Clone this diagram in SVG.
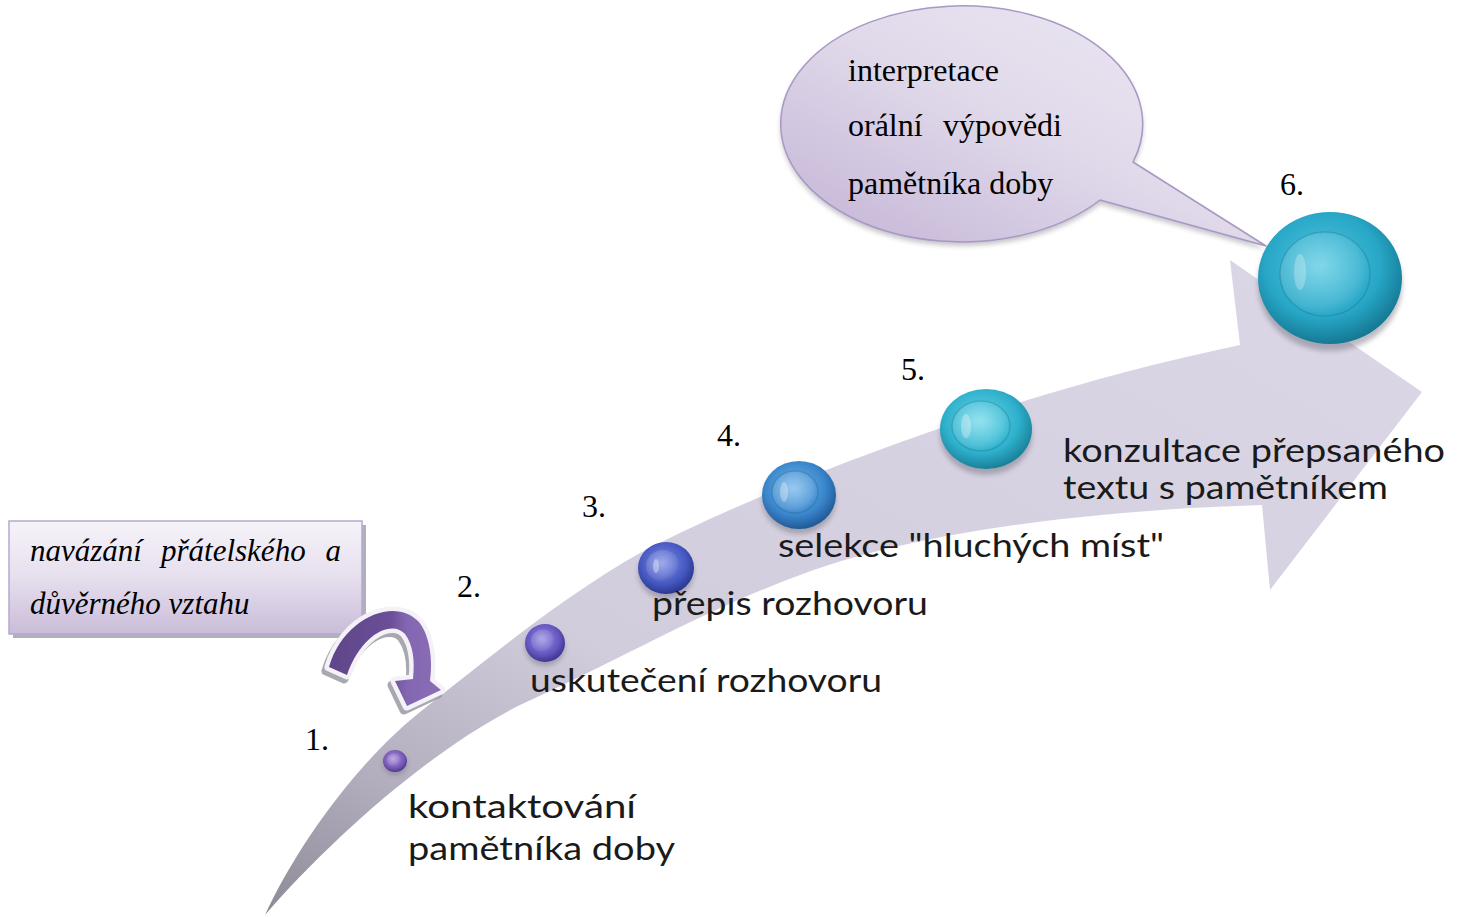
<svg xmlns="http://www.w3.org/2000/svg" width="1464" height="917" viewBox="0 0 1464 917">
<style>
.num{font-family:"Liberation Serif","Times New Roman",serif;font-size:32px;fill:#000}
.lbl{font-family:Lato,"Open Sans","DejaVu Sans",sans-serif;font-size:32px;fill:#1a1a1a}
.ser{font-family:"Liberation Serif","Times New Roman",serif;font-size:32px;fill:#000}
.it{font-style:italic;font-size:31px}
.shd{fill:#6a6a78;opacity:0.45;filter:url(#blur)}
.ring{stroke:#0e5f78;stroke-opacity:0.25;stroke-width:1.5}
</style>
<defs>
<filter id="blur" x="-30%" y="-30%" width="160%" height="160%"><feGaussianBlur stdDeviation="2.5"/></filter>
<linearGradient id="bandG" x1="0" y1="1" x2="1" y2="0">
<stop offset="0" stop-color="#8e8a97"/>
<stop offset="0.15" stop-color="#b3aebe"/>
<stop offset="0.35" stop-color="#d2cddd"/>
<stop offset="1" stop-color="#dcd7e7"/>
</linearGradient>
<linearGradient id="boxG" x1="0" y1="0" x2="0" y2="1">
<stop offset="0" stop-color="#f6f3f9"/>
<stop offset="0.5" stop-color="#e6dfee"/>
<stop offset="1" stop-color="#c9bcd9"/>
</linearGradient>
<linearGradient id="bubG" x1="1" y1="0" x2="0" y2="1">
<stop offset="0" stop-color="#eeeaf4"/>
<stop offset="0.5" stop-color="#e0d9ea"/>
<stop offset="1" stop-color="#c2b2d5"/>
</linearGradient>
<linearGradient id="curG" x1="0" y1="0" x2="1" y2="0">
<stop offset="0" stop-color="#5f4589"/>
<stop offset="0.55" stop-color="#6a4f98"/>
<stop offset="0.7" stop-color="#8467b2"/>
<stop offset="1" stop-color="#8a6cb6"/>
</linearGradient>
<radialGradient id="s1" cx="0.45" cy="0.4" r="0.62"><stop offset="0" stop-color="#a88bd8"/><stop offset="0.65" stop-color="#7a5cb8"/><stop offset="1" stop-color="#4b3487"/></radialGradient>
<radialGradient id="s2" cx="0.45" cy="0.4" r="0.62"><stop offset="0" stop-color="#9186e0"/><stop offset="0.65" stop-color="#6457c0"/><stop offset="1" stop-color="#3a318c"/></radialGradient>
<radialGradient id="s3" cx="0.45" cy="0.4" r="0.62"><stop offset="0" stop-color="#7b8ce2"/><stop offset="0.65" stop-color="#4759c2"/><stop offset="1" stop-color="#27348c"/></radialGradient>
<radialGradient id="s4" cx="0.45" cy="0.4" r="0.62"><stop offset="0" stop-color="#74b6ea"/><stop offset="0.65" stop-color="#3a86cc"/><stop offset="1" stop-color="#1d5692"/></radialGradient>
<radialGradient id="s5" cx="0.45" cy="0.4" r="0.62"><stop offset="0" stop-color="#6cd8ea"/><stop offset="0.65" stop-color="#2eb0cc"/><stop offset="1" stop-color="#187c94"/></radialGradient>
<radialGradient id="s6" cx="0.45" cy="0.4" r="0.62"><stop offset="0" stop-color="#52c8e2"/><stop offset="0.65" stop-color="#27a6c6"/><stop offset="1" stop-color="#137590"/></radialGradient>
<radialGradient id="inn" cx="0.4" cy="0.4" r="0.6"><stop offset="0" stop-color="#ffffff" stop-opacity="0.28"/><stop offset="0.8" stop-color="#ffffff" stop-opacity="0.1"/><stop offset="1" stop-color="#ffffff" stop-opacity="0"/></radialGradient>
<path id="curv" d="M329,667 C343,618 395,596 419,622 C430,636 433,660 430,681 L441,690 L407,706 L395,681 L413,679 C415,660 413,645 405,634 C393,620 362,632 347,675 Z"/>
</defs>

<rect width="1464" height="917" fill="#ffffff"/>

<g id="main-arrow">
<path d="M265,915 C300,840 360,760 420,712 C480,665 560,598 640,553 C760,490 1000,395 1240,345 L1230,260 L1422,392 L1270,590 L1262,505 C1100,510 920,530 800,575 C700,612 620,660 520,705 C430,750 330,840 265,915 Z" fill="url(#bandG)"/>
</g>

<g id="note-box">
<rect x="13" y="525" width="353" height="113" fill="#9c9ca6" opacity="0.8"/>
<rect x="9" y="521" width="353" height="113" fill="url(#boxG)" stroke="#b6a9cf" stroke-width="1.5"/>
<text class="ser it" x="30" y="561">navázání</text>
<text class="ser it" x="161" y="561">přátelského</text>
<text class="ser it" x="341" y="561" text-anchor="end">a</text>
<text class="ser it" x="30" y="614">důvěrného vztahu</text>
</g>

<g id="connectors">
<use href="#curv" fill="#8c8c96" stroke="#8c8c96" stroke-width="9" stroke-linejoin="round" opacity="0.75" transform="translate(-3,4)"/>
<use href="#curv" fill="#f4f2f7" stroke="#f4f2f7" stroke-width="9" stroke-linejoin="round"/>
<use href="#curv" fill="url(#curG)"/>
</g>

<g id="step1">
<ellipse class="shd" cx="395" cy="764" rx="12" ry="11"/>
<ellipse cx="395" cy="761" rx="12" ry="11" fill="url(#s1)"/>
<ellipse cx="394" cy="760" rx="7" ry="6.5" fill="url(#inn)"/>
<text class="num" x="305" y="750">1.</text>
<text class="lbl" x="408" y="818" textLength="228" lengthAdjust="spacingAndGlyphs">kontaktování</text>
<text class="lbl" x="408" y="860" textLength="267" lengthAdjust="spacingAndGlyphs">pamětníka doby</text>
</g>

<g id="step2">
<ellipse class="shd" cx="545" cy="647" rx="20" ry="19"/>
<ellipse cx="545" cy="643" rx="20" ry="19" fill="url(#s2)"/>
<ellipse cx="543" cy="641" rx="12" ry="11.5" fill="url(#inn)"/>
<text class="num" x="457" y="597">2.</text>
<text class="lbl" x="530" y="692" textLength="352" lengthAdjust="spacingAndGlyphs">uskutečení rozhovoru</text>
</g>

<g id="step3">
<ellipse class="shd" cx="666" cy="573" rx="28" ry="26"/>
<ellipse cx="666" cy="568" rx="28" ry="26" fill="url(#s3)"/>
<ellipse cx="663" cy="566" rx="17" ry="16" fill="url(#inn)"/>
<ellipse cx="656" cy="566" rx="3" ry="7" fill="#ffffff" opacity="0.35"/>
<text class="num" x="582" y="517">3.</text>
<text class="lbl" x="652" y="615" textLength="276" lengthAdjust="spacingAndGlyphs">přepis rozhovoru</text>
</g>

<g id="step4">
<ellipse class="shd" cx="799" cy="500" rx="37" ry="34"/>
<ellipse cx="799" cy="495" rx="37" ry="34" fill="url(#s4)"/>
<ellipse class="ring" cx="795" cy="492" rx="23" ry="21" fill="url(#inn)"/>
<ellipse cx="784" cy="492" rx="4" ry="10" fill="#ffffff" opacity="0.3"/>
<text class="num" x="717" y="446">4.</text>
<text class="lbl" x="778" y="557" textLength="386" lengthAdjust="spacingAndGlyphs">selekce "hluchých míst"</text>
</g>

<g id="step5">
<ellipse class="shd" cx="986" cy="435" rx="46" ry="40"/>
<ellipse cx="986" cy="429" rx="46" ry="40" fill="url(#s5)"/>
<ellipse class="ring" cx="981" cy="426" rx="29" ry="25" fill="url(#inn)"/>
<ellipse cx="966" cy="426" rx="5" ry="12" fill="#ffffff" opacity="0.3"/>
<text class="num" x="901" y="380">5.</text>
<text class="lbl" x="1063" y="462" textLength="382" lengthAdjust="spacingAndGlyphs">konzultace přepsaného</text>
<text class="lbl" x="1063" y="499" textLength="325" lengthAdjust="spacingAndGlyphs">textu s pamětníkem</text>
</g>

<g id="callout">
<path d="M1133,162 L1266,246 L1100,200 A181,118 0 1 1 1133,162 Z" fill="#8a8a96" opacity="0.5" transform="translate(0,4)" filter="url(#blur)"/>
<path d="M1133,162 L1266,246 L1100,200 A181,118 0 1 1 1133,162 Z" fill="url(#bubG)" stroke="#a898c4" stroke-width="1.5" stroke-linejoin="round"/>
<text class="ser" x="848" y="81">interpretace</text>
<text class="ser" x="848" y="136">orální</text>
<text class="ser" x="1062" y="136" text-anchor="end">výpovědi</text>
<text class="ser" x="848" y="194">pamětníka doby</text>
</g>

<g id="step6">
<ellipse class="shd" cx="1330" cy="285" rx="72" ry="66"/>
<ellipse cx="1330" cy="278" rx="72" ry="66" fill="url(#s6)"/>
<ellipse class="ring" cx="1325" cy="274" rx="45" ry="42" fill="url(#inn)"/>
<ellipse cx="1300" cy="272" rx="6" ry="18" fill="#ffffff" opacity="0.25"/>
<text class="num" x="1280" y="195">6.</text>
</g>
</svg>
